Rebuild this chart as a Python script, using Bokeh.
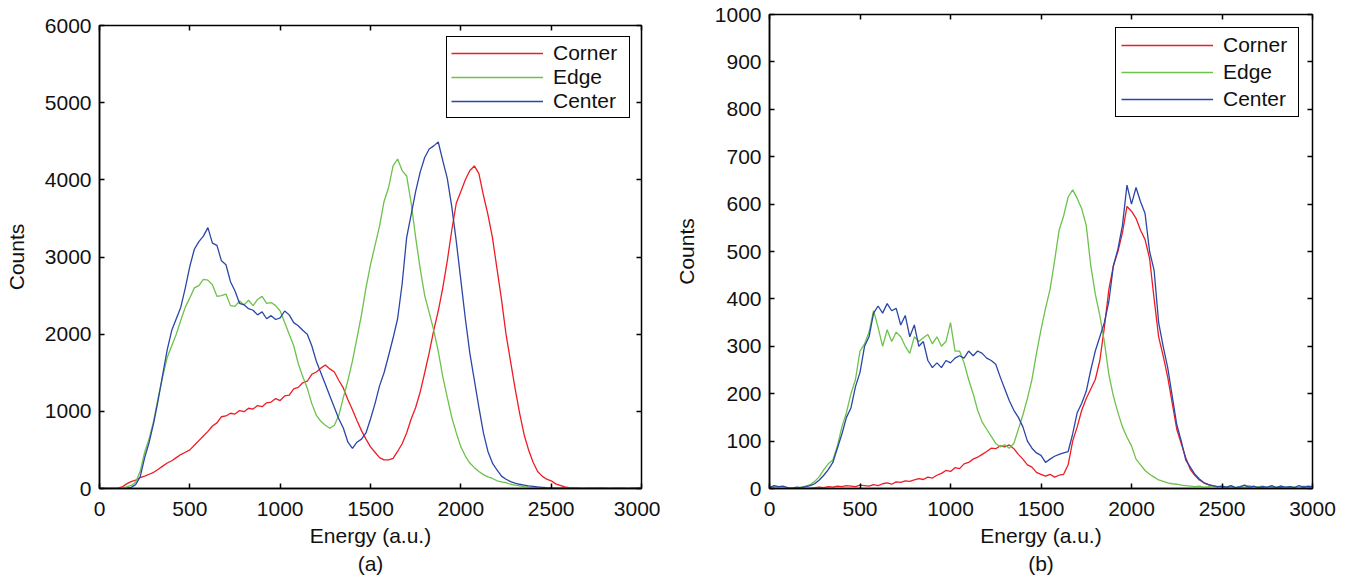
from bokeh.plotting import figure
from bokeh.layouts import row
from bokeh.models import Range1d, LinearAxis, FixedTicker, Title
from bokeh.embed import file_html
from bokeh.resources import INLINE

# ---------------- data ----------------
energy = list(range(0, 3001, 25))

a_corner = [0, 0, 0, 0, 5,
            20, 60, 90, 110, 140,
            160, 185, 210, 250, 290,
            330, 360, 400, 440, 470,
            500, 560, 620, 680, 740,
            810, 850, 930, 940, 975,
            965, 1010, 995, 1040, 1030,
            1075, 1060, 1110, 1120, 1165,
            1140, 1200, 1210, 1290, 1310,
            1370, 1390, 1480, 1510, 1560,
            1600, 1550, 1510, 1400, 1300,
            1150, 1020, 880, 750, 640,
            540, 470, 400, 370, 370,
            390, 480, 580, 720, 900,
            1050, 1250, 1500, 1760, 2050,
            2300, 2600, 2950, 3350, 3700,
            3850, 4000, 4120, 4180, 4080,
            3800, 3550, 3250, 2850, 2450,
            2000, 1650, 1300, 980, 700,
            500, 340, 220, 160, 120,
            100, 60, 40, 20, 10,
            5, 3, 0, 2, 0,
            0, 3, 0, 1, 0,
            2, 0, 0, 3, 0,
            0]

a_edge = [0, 0, 0, 0, 0,
          5, 20, 40, 80, 220,
          470, 650, 880, 1180, 1450,
          1700, 1850, 2000, 2180, 2350,
          2470, 2600, 2630, 2710, 2700,
          2640, 2490, 2500, 2520, 2370,
          2360, 2430, 2380, 2440, 2370,
          2450, 2490, 2400, 2410, 2370,
          2300, 2150, 2000, 1850, 1620,
          1450, 1300, 1100, 950, 870,
          820, 780, 820, 950, 1180,
          1400, 1650, 1950, 2250, 2600,
          2900, 3150, 3400, 3720, 3900,
          4180, 4270, 4120, 4050, 3700,
          3250, 2850, 2500, 2280, 2050,
          1780, 1450, 1180, 920, 720,
          540, 420, 330, 270, 220,
          180, 150, 130, 100, 85,
          75, 55, 45, 35, 25,
          18, 12, 10, 8, 6,
          5, 4, 6, 3, 5,
          2, 4, 3, 5, 2,
          3, 6, 2, 4, 3,
          5, 2, 4, 3, 6,
          3]

a_center = [0, 0, 0, 0, 0,
            0, 5, 15, 50, 150,
            400, 600, 850, 1150, 1480,
            1800, 2050, 2200, 2350, 2600,
            2880, 3100, 3200, 3270, 3380,
            3180, 3150, 2950, 2900, 2680,
            2560, 2400, 2380, 2330, 2310,
            2250, 2290, 2200, 2240, 2190,
            2210, 2300, 2250, 2150, 2110,
            2050, 2000, 1850, 1650, 1500,
            1350, 1200, 1050, 900, 780,
            600, 520, 600, 640, 720,
            900, 1100, 1330, 1500, 1720,
            1950, 2200, 2650, 3250, 3550,
            3850, 4100, 4290, 4400, 4440,
            4490, 4250, 4020, 3650, 3200,
            2700, 2200, 1750, 1400, 1050,
            720, 480, 330, 240, 160,
            120, 90, 70, 55, 45,
            35, 28, 20, 15, 10,
            8, 6, 4, 7, 5,
            3, 5, 2, 6, 4,
            5, 3, 6, 2, 4,
            3, 5, 2, 4, 6,
            3]

b_corner = [3, 0, 2, 0, 0,
            1, 0, 2, 0, 1,
            2, 3, 2, 4, 3,
            5, 4, 6, 5, 4,
            7, 6, 5, 8, 6,
            10, 12, 9, 14, 13,
            16, 15, 18, 21, 19,
            24, 22, 28, 32, 38,
            36, 44, 42, 52, 55,
            62, 66, 72, 78, 85,
            84, 90, 88, 92, 84,
            72, 62, 50, 45, 34,
            30, 26, 30, 24, 28,
            30, 50, 100, 130, 165,
            190, 210, 230, 270, 340,
            420, 470, 500, 540, 595,
            585, 570, 545, 525, 485,
            400, 320, 280, 235, 180,
            125, 95, 65, 40, 28,
            18, 12, 8, 5, 4,
            3, 2, 4, 1, 3,
            2, 0, 3, 1, 2,
            0, 2, 1, 3, 0,
            2, 1, 0, 2, 1,
            0]

b_edge = [0, 4, 2, 3, 0,
          2, 1, 3, 5, 8,
          15, 25, 40, 52, 60,
          90, 130, 160, 200, 230,
          290, 305, 330, 375, 340,
          300, 335, 310, 330, 320,
          300, 285, 320, 310, 318,
          325, 305, 320, 300, 310,
          350, 290, 290, 265, 230,
          200, 165, 140, 125, 110,
          95, 88, 92, 85, 95,
          125, 155, 190, 230, 285,
          335, 380, 420, 480, 545,
          575, 615, 630, 612, 590,
          555, 470, 410, 365, 310,
          240, 195, 160, 130, 108,
          90, 62, 50, 38, 30,
          24, 18, 15, 12, 10,
          9, 7, 6, 5, 4,
          5, 3, 4, 6, 2,
          4, 3, 5, 2, 4,
          3, 6, 2, 4, 5,
          2, 4, 3, 5, 2,
          4, 3, 2, 5, 3,
          2]

b_center = [2, 6, 4, 5, 2,
            1, 3, 2, 4, 6,
            10, 18, 28, 40, 55,
            85, 115, 150, 170, 215,
            245, 300, 320, 370, 385,
            370, 390, 375, 380, 345,
            365, 320, 345, 300, 310,
            270, 255, 265, 255, 270,
            265, 275, 280, 275, 290,
            280, 290, 285, 275, 270,
            262, 235, 210, 185, 165,
            150, 130, 100, 85, 75,
            70, 55, 62, 68, 72,
            75, 78, 115, 160, 180,
            205, 250, 290, 320, 350,
            395, 470, 505, 555, 640,
            600, 635, 605, 580, 500,
            460, 350, 300, 255, 195,
            135, 100, 60, 45, 30,
            20, 12, 8, 6, 4,
            5, 3, 6, 2, 4,
            7, 3, 5, 2, 4,
            3, 6, 2, 5, 3,
            4, 2, 6, 3, 5,
            4]

series_names = ["Corner", "Edge", "Center"]
x_ticks = [0, 500, 1000, 1500, 2000, 2500, 3000]
a_y_ticks = [0, 1000, 2000, 3000, 4000, 5000, 6000]
b_y_ticks = [0, 100, 200, 300, 400, 500, 600, 700, 800, 900, 1000]

# ---------------- style ----------------
FONT = "Liberation Sans"
FS = "21px"
COLORS = ["#ee1c24", "#6cc24a", "#2b46a6"]


def tick_only_axis(ticks):
    return LinearAxis(ticker=FixedTicker(ticks=ticks), major_tick_in=5, major_tick_out=0,
                      minor_tick_line_color=None, axis_line_color=None,
                      major_tick_line_width=1.5, major_label_text_font_size="1px",
                      major_label_text_color=None, major_label_text_alpha=0,
                      major_label_standoff=0)


def make_panel(ys, y_ticks, ymax, width, height, top_margin, b_left, b_right, tag,
               leg_margin, leg_spacing, leg_padding, leg_label_width):
    p = figure(width=width, height=height, output_backend="svg", toolbar_location=None,
               x_range=Range1d(0, 3000), y_range=Range1d(0, ymax),
               min_border_left=b_left, min_border_right=b_right,
               min_border_top=14, min_border_bottom=93,
               margin=(top_margin, 0, 0, 0))
    p.xgrid.visible = False
    p.ygrid.visible = False
    p.outline_line_color = "black"
    p.outline_line_width = 1.5
    p.background_fill_color = "white"

    for y, name, c in zip(ys, series_names, COLORS):
        p.line(energy, y, line_color=c, line_width=1.3, legend_label=name)

    p.xaxis.ticker = FixedTicker(ticks=x_ticks)
    p.yaxis.ticker = FixedTicker(ticks=y_ticks)
    for ax in (p.xaxis[0], p.yaxis[0]):
        ax.major_tick_in = 5
        ax.major_tick_out = 0
        ax.minor_tick_line_color = None
        ax.axis_line_color = "black"
        ax.axis_line_width = 1.5
        ax.major_tick_line_width = 1.5
        ax.major_label_text_font = FONT
        ax.major_label_text_font_size = FS
        ax.major_label_text_color = "#111111"
        ax.axis_label_text_font = FONT
        ax.axis_label_text_font_size = FS
        ax.axis_label_text_font_style = "normal"
        ax.axis_label_text_color = "#111111"
    p.xaxis.axis_label = "Energy (a.u.)"
    p.yaxis.axis_label = "Counts"
    p.xaxis.major_label_standoff = 13
    p.xaxis.axis_label_standoff = 5
    p.yaxis.major_label_standoff = 8
    p.yaxis.axis_label_standoff = 14

    p.add_layout(tick_only_axis(y_ticks), "right")
    p.add_layout(tick_only_axis(x_ticks), "above")

    t = Title(text=tag, align="center", text_font=FONT, text_font_size=FS,
              text_font_style="normal", text_color="#111111", standoff=0)
    p.add_layout(t, "below")

    lg = p.legend[0]
    lg.location = "top_right"
    lg.margin = leg_margin
    lg.border_line_color = "black"
    lg.border_line_width = 1.5
    lg.border_line_alpha = 1
    lg.background_fill_alpha = 1
    lg.label_text_font = FONT
    lg.label_text_font_size = FS
    lg.label_text_color = "#111111"
    lg.glyph_width = 92
    lg.glyph_height = 20
    lg.label_height = 20
    lg.label_width = leg_label_width
    lg.label_standoff = 10
    lg.padding = leg_padding
    lg.spacing = leg_spacing
    return p


pa = make_panel([a_corner, a_edge, a_center], a_y_ticks, 6000, 660, 570, 11, 99, 19, "(a)",
                11, 0, 4, 72)
pb = make_panel([b_corner, b_edge, b_center], b_y_ticks, 1000, 693, 581, 0, 109, 41, "(b)",
                13, 3, 5, 70)

layout = row(pa, pb)
open("out.html", "w").write(file_html(layout, INLINE))
